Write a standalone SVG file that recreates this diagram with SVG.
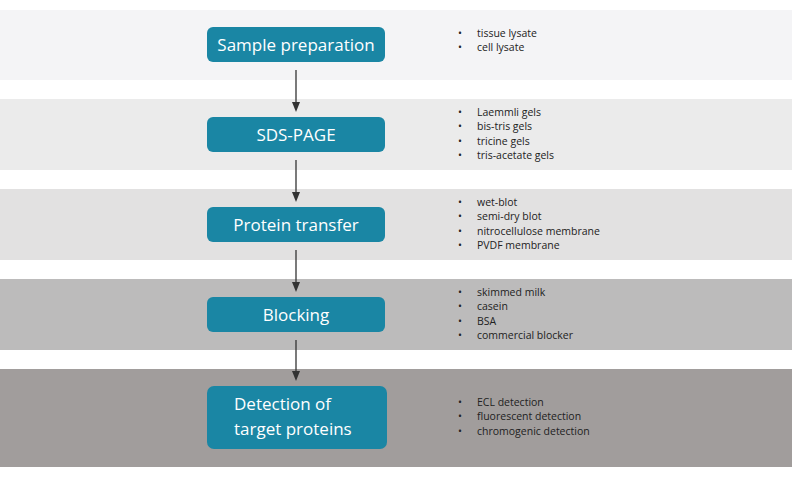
<svg xmlns="http://www.w3.org/2000/svg" width="792" height="477" viewBox="0 0 792 477">
<defs>
<marker id="ah" markerWidth="10" markerHeight="10" refX="5" refY="4" orient="auto" markerUnits="userSpaceOnUse"><path d="M0,0 L10,4 L0,8 Z" fill="#333"/></marker>
<style>
.box{fill:#1a86a4}
.bt{font-family:"Open Sans","Liberation Sans",sans-serif;font-size:17px;fill:#fff}
.c{text-anchor:middle}
.li{font-family:"Open Sans","Liberation Sans",sans-serif;font-size:10.5px;fill:#222}
.cn{stroke:#333;stroke-width:1.3;fill:none;marker-end:url(#ah)}
</style>
</defs>
<rect x="0" y="10" width="792" height="70" fill="#f4f4f6"/>
<rect x="0" y="99" width="792" height="71" fill="#ebebeb"/>
<rect x="0" y="189" width="792" height="71" fill="#e2e1e1"/>
<rect x="0" y="279" width="792" height="71" fill="#bcbbbb"/>
<rect x="0" y="369" width="792" height="98" fill="#a19d9c"/>
<g id="connectors">
<line class="cn" x1="296" y1="70" x2="296" y2="107"/>
<line class="cn" x1="296" y1="160" x2="296" y2="197"/>
<line class="cn" x1="296" y1="250" x2="296" y2="287"/>
<line class="cn" x1="296" y1="340" x2="296" y2="376"/>
</g>
<g id="n1"><rect class="box" x="207" y="27" width="178" height="35" rx="6"/><text class="bt c" x="296" y="50.5">Sample preparation</text>
<text class="li"><tspan x="458" y="37">•</tspan><tspan x="477" y="37">tissue lysate</tspan><tspan x="458" y="51">•</tspan><tspan x="477" y="51">cell lysate</tspan></text></g>
<g id="n2"><rect class="box" x="207" y="117" width="178" height="35" rx="6"/><text class="bt c" x="296" y="140.5">SDS-PAGE</text>
<text class="li"><tspan x="458" y="116">•</tspan><tspan x="477" y="116">Laemmli gels</tspan><tspan x="458" y="130">•</tspan><tspan x="477" y="130">bis-tris gels</tspan><tspan x="458" y="145">•</tspan><tspan x="477" y="145">tricine gels</tspan><tspan x="458" y="159">•</tspan><tspan x="477" y="159">tris-acetate gels</tspan></text></g>
<g id="n3"><rect class="box" x="207" y="207" width="178" height="35" rx="6"/><text class="bt c" x="296" y="230.5">Protein transfer</text>
<text class="li"><tspan x="458" y="206">•</tspan><tspan x="477" y="206">wet-blot</tspan><tspan x="458" y="220">•</tspan><tspan x="477" y="220">semi-dry blot</tspan><tspan x="458" y="235">•</tspan><tspan x="477" y="235">nitrocellulose membrane</tspan><tspan x="458" y="249">•</tspan><tspan x="477" y="249">PVDF membrane</tspan></text></g>
<g id="n4"><rect class="box" x="207" y="297" width="178" height="35" rx="6"/><text class="bt c" x="296" y="320.5">Blocking</text>
<text class="li"><tspan x="458" y="296">•</tspan><tspan x="477" y="296">skimmed milk</tspan><tspan x="458" y="310">•</tspan><tspan x="477" y="310">casein</tspan><tspan x="458" y="325">•</tspan><tspan x="477" y="325">BSA</tspan><tspan x="458" y="339">•</tspan><tspan x="477" y="339">commercial blocker</tspan></text></g>
<g id="n5"><rect class="box" x="207" y="386" width="180" height="63" rx="7"/><text class="bt" x="234" y="410">Detection of</text><text class="bt" x="234" y="435">target proteins</text>
<text class="li"><tspan x="458" y="406">•</tspan><tspan x="477" y="406">ECL detection</tspan><tspan x="458" y="420">•</tspan><tspan x="477" y="420">fluorescent detection</tspan><tspan x="458" y="435">•</tspan><tspan x="477" y="435">chromogenic detection</tspan></text></g>
</svg>
